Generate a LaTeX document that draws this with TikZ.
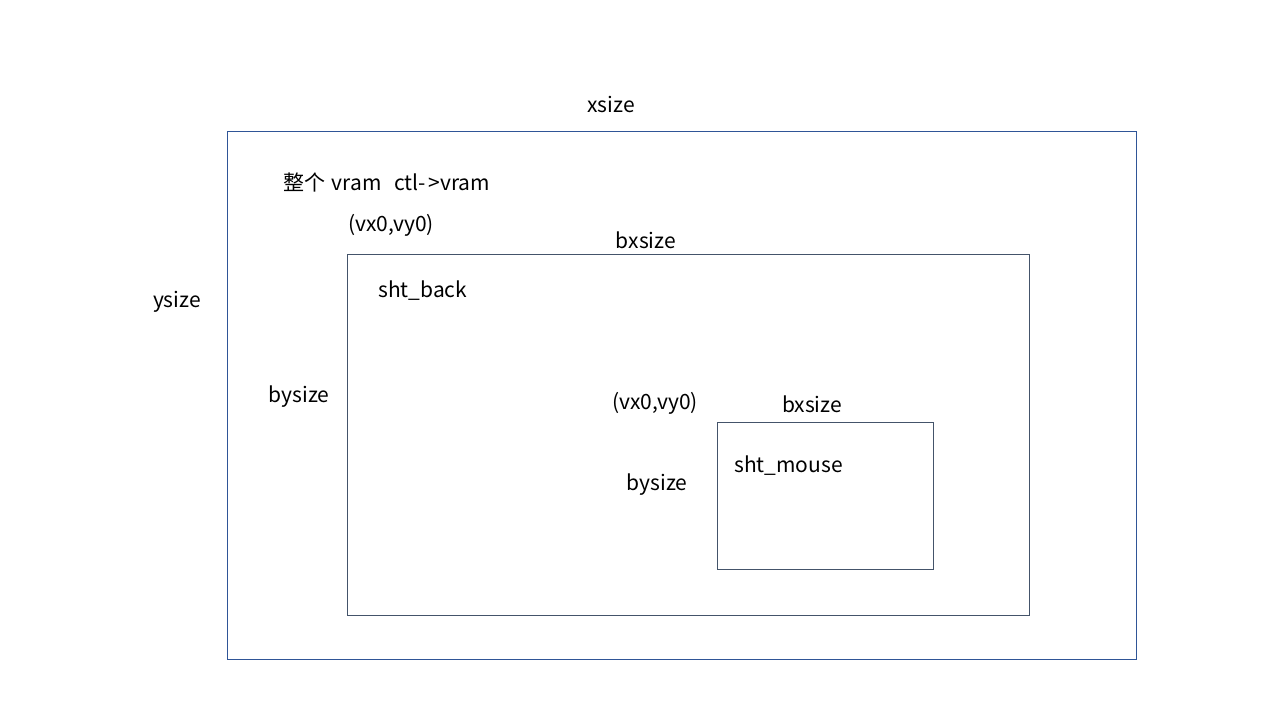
\documentclass[tikz,border=0pt]{standalone}
\usepackage{fontspec}
\setmainfont{Noto Sans CJK SC}
\begin{document}
\begin{tikzpicture}[x=1pt,y=-1pt,
  lbl/.style={inner sep=0pt,font=\fontsize{21}{24}\selectfont,text=black},
  outerbox/.style={draw=outerblue,line width=1pt,inner sep=0pt,anchor=north west},
  innerbox/.style={draw=innergray,line width=1pt,inner sep=0pt,anchor=north west}]
\definecolor{outerblue}{HTML}{2F5597}
\definecolor{innergray}{HTML}{44546A}
\useasboundingbox (0,0) rectangle (1280,720);
\node[outerbox,minimum width=909pt,minimum height=528pt] (vram) at (227,131) {};
\node[innerbox,minimum width=682pt,minimum height=361pt] (back) at (347,254) {};
\node[innerbox,minimum width=216pt,minimum height=147pt] (mouse) at (717,422) {};
\node[lbl] (xs) at (611,104) {xsize};
\node[lbl,anchor=west] (title) at (283,182) {整个\hspace{2pt} vram\ \ \hspace{3pt}ctl-\hspace{3pt}>vram};
\node[lbl,anchor=west] (o1) at (348,225) {(vx0,vy0)};
\node[lbl] (bx1) at (646,240) {bxsize};
\node[lbl] (ys) at (177,302) {ysize};
\node[lbl,anchor=west] (sb) at (378,291) {sht\_back};
\node[lbl] (by1) at (299,397) {bysize};
\node[lbl,anchor=west] (o2) at (612,403) {(vx0,vy0)};
\node[lbl] (bx2) at (812,404) {bxsize};
\node[lbl,anchor=west] (sm) at (734,466) {sht\_mouse};
\node[lbl] (by2) at (657,485) {bysize};
\end{tikzpicture}
\end{document}
